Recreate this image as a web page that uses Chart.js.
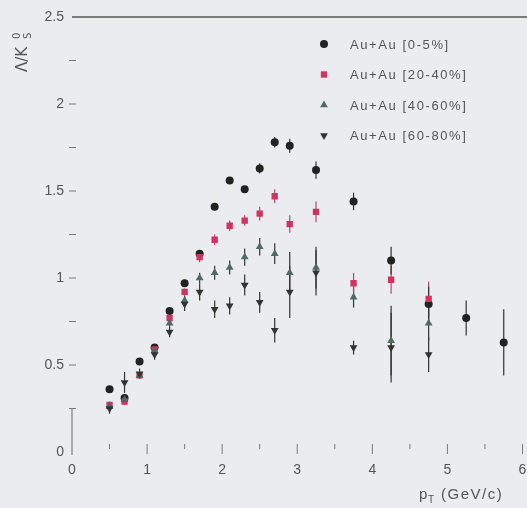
<!DOCTYPE html>
<html>
<head>
<meta charset="utf-8">
<script src="https://cdn.jsdelivr.net/npm/chart.js@4/dist/chart.umd.min.js"></script>
<style>
  html, body { margin: 0; padding: 0; background: #ebecf0; }
  canvas { display: block; }
</style>
</head>
<body>
<canvas id="c" width="527" height="508"></canvas>
<script>
// ---- data ----
const pt = [0.5,0.7,0.9,1.1,1.3,1.5,1.7,1.9,2.1,2.3,2.5,2.7,2.9,3.25,3.75,4.25,4.75,5.25,5.75];
const seriesNames = ["Au+Au [0-5%]", "Au+Au [20-40%]", "Au+Au [40-60%]", "Au+Au [60-80%]"];
const c0_5     = [0.36,0.31,0.52,0.60,0.81,0.97,1.14,1.41,1.56,1.51,1.63,1.78,1.76,1.62,1.44,1.10,0.85,0.77,0.63];
const c0_5Err  = [0.02,0.02,0.02,0.02,0.02,0.02,0.02,0.02,0.02,0.02,0.03,0.03,0.04,0.05,0.05,0.08,0.10,0.10,0.19];
const c20_40    = [0.27,0.29,0.44,0.59,0.77,0.92,1.12,1.22,1.30,1.33,1.37,1.47,1.31,1.38,0.97,0.99,0.88];
const c20_40Err = [0.02,0.02,0.02,0.02,0.02,0.02,0.03,0.03,0.03,0.03,0.04,0.04,0.05,0.06,0.06,0.08,0.10];
const c40_60    = [0.26,0.30,0.44,0.58,0.74,0.87,1.00,1.03,1.06,1.12,1.18,1.14,1.03,1.06,0.89,0.64,0.74];
const c40_60Err = [0.02,0.03,0.02,0.02,0.02,0.03,0.03,0.04,0.04,0.05,0.05,0.06,0.12,0.12,0.06,0.20,0.10];
const c60_80    = [0.25,0.40,0.45,0.56,0.69,0.85,0.92,0.82,0.84,0.96,0.86,0.70,0.92,1.03,0.60,0.60,0.56];
const c60_80Err = [0.03,0.06,0.03,0.03,0.03,0.04,0.05,0.05,0.05,0.06,0.06,0.07,0.15,0.13,0.04,0.20,0.10];
const yTickLabels = {"0":"0","0.5":"0.5","1":"1","1.5":"1.5","2":"2","2.5":"2.5"};
const xTickLabels = ["0","1","2","3","4","5","6"];

function pts(vals) { return vals.map((v, i) => ({ x: pt[i], y: v })); }

const styles = [
  { color: "#222222", pointStyle: "circle",   radius: 4,   rotation: 0 },
  { color: "#cf3461", pointStyle: "rect",     radius: 4.5, rotation: 0 },
  { color: "#4f6a62", pointStyle: "triangle", radius: 4.5, rotation: 0 },
  { color: "#333333", pointStyle: "triangle", radius: 4.5, rotation: 180 }
];
const values = [c0_5, c20_40, c40_60, c60_80];
const errors = [c0_5Err, c20_40Err, c40_60Err, c60_80Err];

const datasets = values.map((v, k) => ({
  label: seriesNames[k],
  data: pts(v),
  errors: errors[k],
  backgroundColor: styles[k].color,
  borderColor: styles[k].color,
  borderWidth: 0,
  pointStyle: styles[k].pointStyle,
  pointRadius: styles[k].radius,
  rotation: styles[k].rotation,
  showLine: false
})).reverse();

const bgPlugin = {
  id: "bg",
  beforeDraw(chart) {
    const ctx = chart.ctx;
    ctx.save();
    ctx.fillStyle = "#ebecf0";
    ctx.fillRect(0, 0, chart.width, chart.height);
    ctx.restore();
  }
};

const errPlugin = {
  id: "errbars",
  beforeDatasetsDraw(chart) {
    const ctx = chart.ctx, xs = chart.scales.x, ys = chart.scales.y;
    ctx.save();
    chart.data.datasets.forEach(ds => {
      ctx.strokeStyle = ds.borderColor === "#cf3461" ? "#b04a6a" : "#333";
      ctx.lineWidth = 1.2;
      ds.data.forEach((p, i) => {
        const e = ds.errors[i];
        const x = xs.getPixelForValue(p.x);
        ctx.beginPath();
        ctx.moveTo(x, ys.getPixelForValue(p.y - e));
        ctx.lineTo(x, ys.getPixelForValue(p.y + e));
        ctx.stroke();
      });
    });
    ctx.restore();
  }
};

const decoPlugin = {
  id: "deco",
  afterDraw(chart) {
    const ctx = chart.ctx, xs = chart.scales.x, ys = chart.scales.y, a = chart.chartArea;
    ctx.save();
    ctx.strokeStyle = "#555";
    ctx.lineWidth = 1.5;
    ctx.beginPath(); ctx.moveTo(a.left, a.top); ctx.lineTo(chart.width, a.top); ctx.stroke();
    ctx.lineWidth = 1;
    ctx.strokeStyle = "#666";
    ctx.beginPath(); ctx.moveTo(a.left, ys.getPixelForValue(0.25)); ctx.lineTo(a.left, a.bottom + 3); ctx.stroke();
    ctx.strokeStyle = "#777";
    for (let v = 0.25; v < 2.5; v += 0.25) {
      const y = ys.getPixelForValue(v);
      ctx.beginPath(); ctx.moveTo(a.left - 3, y); ctx.lineTo(a.left + 4, y); ctx.stroke();
    }
    for (let v = 0.5; v <= 6; v += 0.5) {
      const x = xs.getPixelForValue(v);
      const len = Number.isInteger(v) ? 10 : 5;
      ctx.beginPath(); ctx.moveTo(x, a.bottom - 8); ctx.lineTo(x, a.bottom - 8 + len); ctx.stroke();
    }
    ctx.fillStyle = "#555";
    ctx.textBaseline = "alphabetic";
    ctx.textAlign = "left";
    ctx.font = "15px 'Liberation Sans', Arial, sans-serif";
    ctx.fillText("p", 419, 499);
    ctx.font = "10px 'Liberation Sans', Arial, sans-serif";
    ctx.fillText("T", 428, 503);
    ctx.font = "15px 'Liberation Sans', Arial, sans-serif";
    ctx.letterSpacing = "1.5px";
    ctx.fillText("(GeV/c)", 441, 499);
    ctx.letterSpacing = "0px";
    ctx.save();
    ctx.translate(27, 72);
    ctx.rotate(-Math.PI / 2);
    ctx.font = "15px 'DejaVu Sans', sans-serif";
    ctx.fillText("Λ/K", 0, 0);
    ctx.font = "10px 'DejaVu Sans', sans-serif";
    ctx.fillText("0", 33, -7);
    ctx.fillText("S", 33, 4);
    ctx.restore();
    const lx = 324, ly0 = 44, dy = 30.5;
    [0, 1, 2, 3].forEach((k, r) => {
      const y = ly0 + r * dy;
      ctx.fillStyle = styles[k].color;
      ctx.strokeStyle = styles[k].color;
      Chart.helpers.drawPoint(ctx, {
        pointStyle: styles[k].pointStyle, radius: styles[k].radius,
        rotation: styles[k].rotation, borderWidth: 0
      }, lx, y);
      ctx.fillStyle = "#555";
      ctx.font = "13px 'Liberation Sans', Arial, sans-serif";
      ctx.letterSpacing = "1.6px";
      ctx.textBaseline = "middle";
      ctx.fillText(seriesNames[k], 350, y + 1);
      ctx.letterSpacing = "0px";
    });
    ctx.restore();
  }
};

new Chart(document.getElementById("c"), {
  type: "scatter",
  data: { datasets },
  options: {
    responsive: false,
    animation: false,
    devicePixelRatio: 1,
    layout: { padding: { top: 17, right: -1, left: 0, bottom: 0 } },
    plugins: { legend: { display: false }, tooltip: { enabled: false } },
    scales: {
      x: {
        type: "linear", min: 0, max: 6,
        afterFit: s => { s.height = 56; s.paddingRight = 0; s.paddingLeft = 0; },
        grid: { display: false, drawTicks: false },
        border: { display: false },
        ticks: {
          stepSize: 1, autoSkip: false, maxRotation: 0, padding: 10,
          color: "#555", font: { size: 14, family: "'Liberation Sans', Arial, sans-serif" },
          callback: (v) => Number.isInteger(v) ? xTickLabels[v] : ""
        }
      },
      y: {
        min: 0, max: 2.5,
        afterFit: s => { s.width = 72; s.paddingTop = 0; s.paddingBottom = 0; },
        grid: { display: false, drawTicks: false },
        border: { display: false },
        ticks: {
          stepSize: 0.5, padding: 8,
          color: "#555", font: { size: 14, family: "'Liberation Sans', Arial, sans-serif" },
          callback: (v) => yTickLabels[String(v)] ?? ""
        }
      }
    }
  },
  plugins: [bgPlugin, errPlugin, decoPlugin]
});
</script>
</body>
</html>
